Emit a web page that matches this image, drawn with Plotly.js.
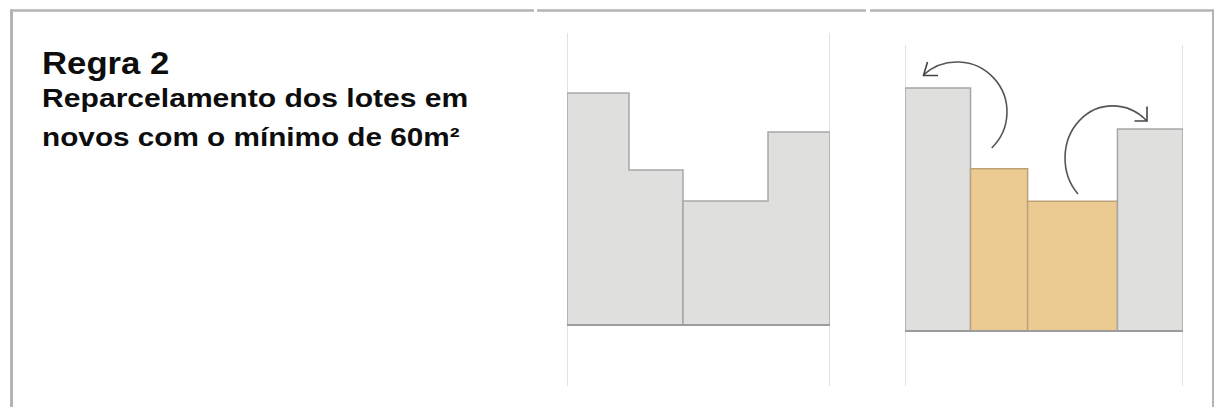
<!DOCTYPE html>
<html>
<head>
<meta charset="utf-8">
<script src="https://cdn.plot.ly/plotly-3.0.1.min.js"></script>
<style>html,body{margin:0;padding:0;background:#fff;}#chart{width:1214px;height:407px;}</style>
</head>
<body>
<div id="chart"></div>
<script>
// ---- data: four lots (widths and heights, in drawing units) ----
const lotWidths  = [62, 54, 85, 62];
const lotHeights = [232, 155, 124, 193];
// left diagram: original lots = groups of strips
const originalLots = [[0, 1], [2, 3]];
// right diagram: status of each strip after re-parcelling
const newLotStatus = ["mantido", "novo", "novo", "mantido"];
const statusFill  = {mantido: "#dfdfde", novo: "#ebcb91"};
const statusLine  = {mantido: "#a6a6a6", novo: "#bda37a"};
// text
const titleText = "Regra 2";
const subtitleLines = ["Reparcelamento dos lotes em", "novos com o mínimo de 60m²"];

// cumulative edges
const edges = [0];
lotWidths.forEach(w => edges.push(edges[edges.length - 1] + w));
const totalW = edges[edges.length - 1];

const W = 1214, H = 407;
const traces = [];

// left: original lots as stepped polygons
originalLots.forEach(group => {
  const xs = [], ys = [];
  const x0 = edges[group[0]], x1 = edges[group[group.length - 1] + 1];
  xs.push(x0); ys.push(0);
  group.forEach(i => {
    xs.push(edges[i]); ys.push(lotHeights[i]);
    xs.push(edges[i + 1]); ys.push(lotHeights[i]);
  });
  xs.push(x1); ys.push(0);
  xs.push(x0); ys.push(0);
  traces.push({
    type: "scatter", mode: "lines", x: xs, y: ys, fill: "toself",
    fillcolor: "#dfdfde", line: {color: "#a8a8a8", width: 1.5},
    xaxis: "x", yaxis: "y", hoverinfo: "skip", showlegend: false
  });
});

// right: re-parcelled lots as individual rectangles
lotWidths.forEach((w, i) => {
  const a = edges[i], b = edges[i + 1], h = lotHeights[i];
  const st = newLotStatus[i];
  traces.push({
    type: "scatter", mode: "lines",
    x: [a, a, b, b, a], y: [0, h, h, 0, 0], fill: "toself",
    fillcolor: statusFill[st], line: {color: statusLine[st], width: 1.5},
    xaxis: "x2", yaxis: "y2", hoverinfo: "skip", showlegend: false
  });
});

// axis geometry (pixel placement of both diagrams)
const sx2 = 278 / totalW, sy2 = 1.047;
const y2lo = -(386 - 331) / sy2, y2hi = (331 - 45) / sy2;
const hidden = {visible: false, fixedrange: true};

// arrow paths on the right diagram (converted from drawing px)
function P(px, py) { return ((px - 905) / sx2).toFixed(2) + "," + ((331 - py) / sy2).toFixed(2); }
const arrow1 = "M" + P(991.7,148) + " C" + P(1011.3,129) + " " + P(1012.2,97.9) + " " + P(993.6,77.9) +
               " C" + P(975,57.9) + " " + P(943.8,56.5) + " " + P(923.5,74.8);
const head1 = "M" + P(938,75.5) + " L" + P(923.5,75.5) + " L" + P(927.5,62);
const arrow2 = "M" + P(1078,193.9) + " C" + P(1060.2,173.3) + " " + P(1060.8,140.4) + " " + P(1079.35,120.6) +
               " C" + P(1097.9,100.8) + " " + P(1127.5,101.2) + " " + P(1146.5,120.5);
const head2 = "M" + P(1134.5,121) + " L" + P(1147,121) + " L" + P(1147,106.5);

const frame = "#b4b4b4";
const shapes = [
  // page frame
  {type: "line", xref: "paper", yref: "paper", x0: 11.5/W, x1: 11.5/W, y0: 0, y1: 1 - 9.5/H, line: {color: frame, width: 3}},
  {type: "line", xref: "paper", yref: "paper", x0: 10/W, x1: 534/W, y0: 1 - 10.5/H, y1: 1 - 10.5/H, line: {color: frame, width: 2.5}},
  {type: "line", xref: "paper", yref: "paper", x0: 537/W, x1: 866/W, y0: 1 - 10.5/H, y1: 1 - 10.5/H, line: {color: frame, width: 2.5}},
  {type: "line", xref: "paper", yref: "paper", x0: 870/W, x1: 1214/W, y0: 1 - 10.5/H, y1: 1 - 10.5/H, line: {color: frame, width: 2.5}},
  {type: "line", xref: "paper", yref: "paper", x0: 1213/W, x1: 1213/W, y0: 0, y1: 1 - 9.5/H, line: {color: frame, width: 2}},
  // guide lines (lot boundaries of the block)
  {type: "line", xref: "x", yref: "y domain", x0: 0, x1: 0, y0: 0, y1: 1, line: {color: "#dadada", width: 1.5}, layer: "below"},
  {type: "line", xref: "x", yref: "y domain", x0: totalW, x1: totalW, y0: 0, y1: 1, line: {color: "#dadada", width: 1.5}, layer: "below"},
  {type: "line", xref: "x2", yref: "y2 domain", x0: 0, x1: 0, y0: 0, y1: 1, line: {color: "#dadada", width: 1.5}, layer: "below"},
  {type: "line", xref: "x2", yref: "y2 domain", x0: totalW, x1: totalW, y0: 0, y1: 1, line: {color: "#dadada", width: 1.5}, layer: "below"},
  // street front (bottom edge of the block)
  {type: "line", xref: "x", yref: "y", x0: 0, x1: totalW, y0: 0, y1: 0, line: {color: "#9c9c9c", width: 2}},
  {type: "line", xref: "x2", yref: "y2", x0: 0, x1: totalW, y0: 0, y1: 0, line: {color: "#9c9c9c", width: 2}},
  // arrows
  {type: "path", xref: "x2", yref: "y2", path: arrow1, line: {color: "#555555", width: 1.6}},
  {type: "path", xref: "x2", yref: "y2", path: head1, line: {color: "#444444", width: 1.6}},
  {type: "path", xref: "x2", yref: "y2", path: arrow2, line: {color: "#555555", width: 1.6}},
  {type: "path", xref: "x2", yref: "y2", path: head2, line: {color: "#444444", width: 1.6}}
];

const fontFam = "Liberation Sans, Arial, sans-serif";
// horizontal stretch factors of the original slide text
const textStretch = [1.12, 1.18, 1.165];
const annotations = [
  {xref: "paper", yref: "paper", x: 40/W, y: 1 - 64/H, xanchor: "left", yanchor: "middle",
   text: "<b>" + titleText + "</b>", showarrow: false, font: {family: fontFam, size: 31, color: "#0d0d0d"}},
  {xref: "paper", yref: "paper", x: 40/W, y: 1 - 98/H, xanchor: "left", yanchor: "middle",
   text: "<b>" + subtitleLines[0] + "</b>", showarrow: false, font: {family: fontFam, size: 25.5, color: "#0d0d0d"}},
  {xref: "paper", yref: "paper", x: 40/W, y: 1 - 137/H, xanchor: "left", yanchor: "middle",
   text: "<b>" + subtitleLines[1] + "</b>", showarrow: false, font: {family: fontFam, size: 25.5, color: "#0d0d0d"}}
];

const layout = {
  width: W, height: H,
  margin: {l: 0, r: 0, t: 0, b: 0, pad: 0},
  paper_bgcolor: "#ffffff", plot_bgcolor: "rgba(0,0,0,0)",
  showlegend: false,
  xaxis:  Object.assign({domain: [567/W, 830/W], range: [0, totalW]}, hidden),
  yaxis:  Object.assign({domain: [(H - 386)/H, (H - 33)/H], range: [-61, 292]}, hidden),
  xaxis2: Object.assign({domain: [905/W, 1183/W], range: [0, totalW], anchor: "y2"}, hidden),
  yaxis2: Object.assign({domain: [(H - 386)/H, (H - 45)/H], range: [y2lo, y2hi], anchor: "x2"}, hidden),
  shapes: shapes,
  annotations: annotations
};

Plotly.newPlot("chart", traces, layout, {staticPlot: true, displayModeBar: false}).then(gd => {
  // stretch the annotation text horizontally like the original slide
  gd.querySelectorAll(".annotation").forEach((g, i) => {
    const t = g.querySelector(".annotation-text");
    if (!t) return;
    const bb = t.getBBox();
    const s = textStretch[i] || 1;
    t.setAttribute("transform", "translate(" + bb.x + ",0) scale(" + s + ",1) translate(" + (-bb.x) + ",0)");
  });
});
</script>
</body>
</html>
